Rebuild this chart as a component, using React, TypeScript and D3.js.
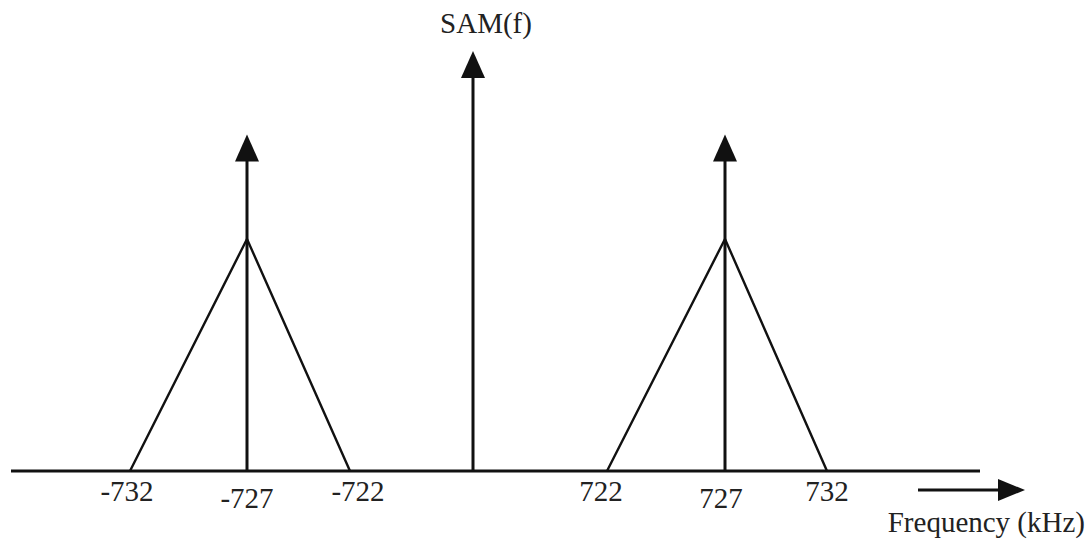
import * as d3 from "d3";
import { useEffect, useRef } from "react";

// frequencies (kHz) where the axis is anchored (the axis is broken around 0)
const axisFreqs = [-732, -727, -722, 0, 722, 727, 732];
// carriers and their sidebands
const carriers = [-727, 727];
const bandHalfWidth = 5;
const triangleHeight = 1;
const impulseHeight = 1.45;
const centerAxisHeight = 1.81;
const tickLabels = [-732, -727, -722, 722, 727, 732];
const raisedLabels = [-732, -722, 722, 732];

export default function App() {
  const ref = useRef<SVGSVGElement>(null);

  useEffect(() => {
    const svg = d3.select(ref.current);
    svg.selectAll("*").remove();

    const width = 1091;
    const height = 543;
    svg.attr("width", width).attr("height", height);

    const x = d3.scaleLinear()
      .domain(axisFreqs)
      .range([130, 247, 350, 473, 607, 725, 827]);

    const y = d3.scaleLinear()
      .domain([0, 1])
      .range([471, 239]);

    const font = "'Liberation Serif', 'Times New Roman', serif";
    const ink = "#111";

    const arrowUp = (cx: number, tipY: number) =>
      `M${cx},${tipY} L${cx - 12},${tipY + 27} L${cx + 12},${tipY + 27} Z`;

    // horizontal axis
    svg.append("line")
      .attr("x1", 11).attr("x2", 980)
      .attr("y1", y(0)).attr("y2", y(0))
      .attr("stroke", ink).attr("stroke-width", 3);

    // vertical axis
    const yTop = y(centerAxisHeight);
    svg.append("line")
      .attr("x1", x(0)).attr("x2", x(0))
      .attr("y1", y(0)).attr("y2", yTop + 20)
      .attr("stroke", ink).attr("stroke-width", 3);
    svg.append("path").attr("d", arrowUp(x(0), yTop)).attr("fill", ink);

    svg.append("text")
      .attr("x", 486).attr("y", 33)
      .attr("text-anchor", "middle")
      .style("font-family", font).style("font-size", "29px")
      .attr("fill", "#222")
      .text("SAM(f)");

    // sideband triangles
    const line = d3.line<[number, number]>()
      .x(d => x(d[0]))
      .y(d => y(d[1]));

    svg.selectAll("path.band")
      .data(carriers)
      .join("path")
      .attr("class", "band")
      .attr("d", c => line([
        [c - bandHalfWidth, 0],
        [c, triangleHeight],
        [c + bandHalfWidth, 0],
      ]))
      .attr("fill", "none")
      .attr("stroke", ink)
      .attr("stroke-width", 2.4)
      .attr("stroke-linejoin", "miter");

    // carrier impulses
    carriers.forEach(c => {
      const tip = y(impulseHeight);
      svg.append("line")
        .attr("x1", x(c)).attr("x2", x(c))
        .attr("y1", y(0)).attr("y2", tip + 20)
        .attr("stroke", ink).attr("stroke-width", 3);
      svg.append("path").attr("d", arrowUp(x(c), tip)).attr("fill", ink);
    });

    // tick labels
    svg.selectAll("text.tick")
      .data(tickLabels)
      .join("text")
      .attr("class", "tick")
      .attr("x", d => x(d) + (d === -722 ? 8 : d === 722 ? -6 : d === 727 ? -4 : d === -732 ? -3 : 0))
      .attr("y", d => (raisedLabels.includes(d) ? 501 : 508))
      .attr("text-anchor", "middle")
      .style("font-family", font).style("font-size", "29px")
      .attr("fill", "#222")
      .text(d => d);

    // frequency arrow
    svg.append("line")
      .attr("x1", 918).attr("x2", 1000)
      .attr("y1", 490).attr("y2", 490)
      .attr("stroke", ink).attr("stroke-width", 3);
    svg.append("path")
      .attr("d", "M1025,490 L998,479 L998,501 Z")
      .attr("fill", ink);

    svg.append("text")
      .attr("x", 1085).attr("y", 532)
      .attr("text-anchor", "end")
      .style("font-family", font).style("font-size", "29px")
      .attr("fill", "#222")
      .text("Frequency (kHz)");
  }, []);

  return (
    <div style={{ position: "absolute", left: 0, top: 0, background: "white" }}>
      <svg ref={ref} style={{ display: "block" }}></svg>
    </div>
  );
}
